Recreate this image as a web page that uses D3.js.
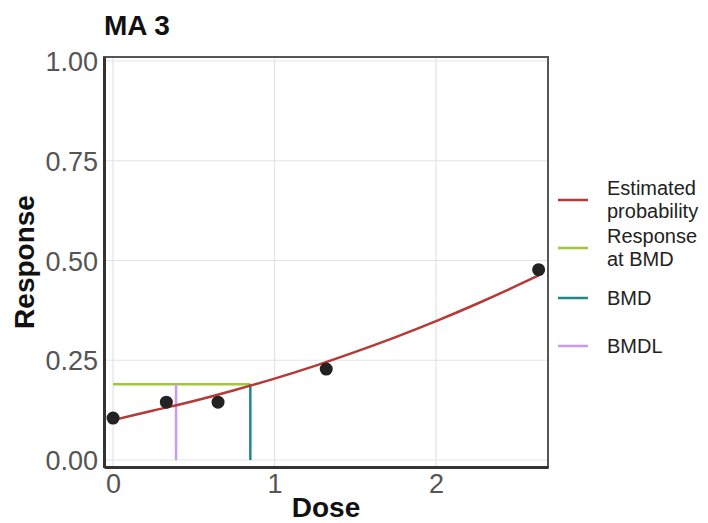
<!DOCTYPE html>
<html>
<head>
<meta charset="utf-8">
<script src="https://cdn.jsdelivr.net/npm/d3@7"></script>
<style>
    body { margin: 0; background: #fff; }
    text { font-family: "Liberation Sans", Arial, sans-serif; }
</style>
</head>
<body>
<div id="chart"></div>
<script>
// observed data
let doses = [0, 0.33, 0.65, 1.32, 2.635];
let responses = [0.105, 0.145, 0.145, 0.228, 0.477];

// fitted curve
let curveDose = [0, 0.25, 0.5, 0.75, 1.0, 1.25, 1.5, 1.75, 2.0, 2.25, 2.5, 2.635];
let curveProb = [0.100, 0.124, 0.148, 0.175, 0.204, 0.236, 0.271, 0.308, 0.348, 0.391, 0.437, 0.463];

let bmd = 0.85;
let bmdl = 0.39;
let bmdResponse = 0.19;

let xTicks = [0, 1, 2];
let yTicks = [0, 0.25, 0.5, 0.75, 1];

let legendLabels = [["Estimated", "probability"], ["Response", "at BMD"], ["BMD"], ["BMDL"]];
let legendColors = ["#b53a36", "#a3c63b", "#21888a", "#c99af0"];

let W = 708, H = 523;
let panel = {left: 104, right: 548, top: 57, bottom: 467};

let svg = d3.select("#chart").append("svg")
    .attr("width", W)
    .attr("height", H);

let x = d3.scaleLinear()
    .domain([-0.056, 2.693])
    .range([panel.left, panel.right]);
let y = d3.scaleLinear()
    .domain([-0.0175, 1.010])
    .range([panel.bottom, panel.top]);

// grid
svg.append("g").selectAll("line.gx")
    .data(xTicks)
    .enter().append("line")
    .attr("x1", d => x(d)).attr("x2", d => x(d))
    .attr("y1", panel.top).attr("y2", panel.bottom)
    .attr("stroke", "#e3e3e3").attr("stroke-width", 1.2);
svg.append("g").selectAll("line.gy")
    .data(yTicks)
    .enter().append("line")
    .attr("x1", panel.left).attr("x2", panel.right)
    .attr("y1", d => y(d)).attr("y2", d => y(d))
    .attr("stroke", "#e3e3e3").attr("stroke-width", 1.2);

// panel border
svg.append("rect")
    .attr("x", panel.left).attr("y", panel.top)
    .attr("width", panel.right - panel.left)
    .attr("height", panel.bottom - panel.top)
    .attr("fill", "none")
    .attr("stroke", "#555").attr("stroke-width", 2);

// axes
let xAxis = d3.axisBottom(x).tickValues(xTicks).tickFormat(d3.format("d")).tickSize(0).tickPadding(7);
let yAxis = d3.axisLeft(y).tickValues(yTicks).tickFormat(d3.format(".2f")).tickSize(0).tickPadding(6);

let gx = svg.append("g")
    .attr("transform", "translate(0," + panel.bottom + ")")
    .call(xAxis);
let gy = svg.append("g")
    .attr("transform", "translate(" + panel.left + ",0)")
    .call(yAxis);
[gx, gy].forEach(function(g) {
    g.select(".domain").attr("stroke", "#333").attr("stroke-width", 3);
    g.selectAll("text")
        .attr("fill", "#555")
        .style("font-size", "27px");
});
gx.selectAll("text").attr("dy", "0.72em");
gy.selectAll("text").attr("dy", "0.36em");

// response at BMD
svg.append("line")
    .attr("x1", x(0)).attr("x2", x(bmd))
    .attr("y1", y(bmdResponse)).attr("y2", y(bmdResponse))
    .attr("stroke", legendColors[1]).attr("stroke-width", 2.5);
// BMDL
svg.append("line")
    .attr("x1", x(bmdl)).attr("x2", x(bmdl))
    .attr("y1", y(0)).attr("y2", y(bmdResponse))
    .attr("stroke", legendColors[3]).attr("stroke-width", 2.5);
// BMD
svg.append("line")
    .attr("x1", x(bmd)).attr("x2", x(bmd))
    .attr("y1", y(0)).attr("y2", y(bmdResponse))
    .attr("stroke", legendColors[2]).attr("stroke-width", 2.5);

// estimated probability
let line = d3.line()
    .x((d, i) => x(curveDose[i]))
    .y(d => y(d))
    .curve(d3.curveMonotoneX);
svg.append("path")
    .datum(curveProb)
    .attr("d", line)
    .attr("fill", "none")
    .attr("stroke", legendColors[0])
    .attr("stroke-width", 2.5);

// points
svg.append("g").selectAll("circle")
    .data(doses)
    .enter().append("circle")
    .attr("cx", d => x(d))
    .attr("cy", (d, i) => y(responses[i]))
    .attr("r", 6.5)
    .attr("fill", "#222");

// titles
svg.append("text")
    .attr("x", 104).attr("y", 35)
    .style("font-size", "28px").style("font-weight", "bold")
    .attr("fill", "#111")
    .text("MA 3");
svg.append("text")
    .attr("x", (panel.left + panel.right) / 2).attr("y", 517)
    .attr("text-anchor", "middle")
    .style("font-size", "28px").style("font-weight", "bold")
    .attr("fill", "#111")
    .text("Dose");
svg.append("text")
    .attr("transform", "translate(34," + (panel.top + panel.bottom) / 2 + ") rotate(-90)")
    .attr("text-anchor", "middle")
    .style("font-size", "28px").style("font-weight", "bold")
    .attr("fill", "#111")
    .text("Response");

// legend
let legendY = [200, 248, 298, 346];
let legend = svg.append("g");
legendLabels.forEach(function(lab, i) {
    legend.append("line")
        .attr("x1", 558).attr("x2", 588)
        .attr("y1", legendY[i]).attr("y2", legendY[i])
        .attr("stroke", legendColors[i]).attr("stroke-width", 2.5);
    let t = legend.append("text")
        .attr("x", 607)
        .attr("y", legendY[i] + (lab.length == 2 ? -12 : 0))
        .attr("dy", "0.36em")
        .style("font-size", "20px")
        .attr("fill", "#222");
    lab.forEach(function(s, j) {
        t.append("tspan")
            .attr("x", 607)
            .attr("dy", j == 0 ? "0.36em" : "1.15em")
            .text(s);
    });
});
</script>
</body>
</html>
